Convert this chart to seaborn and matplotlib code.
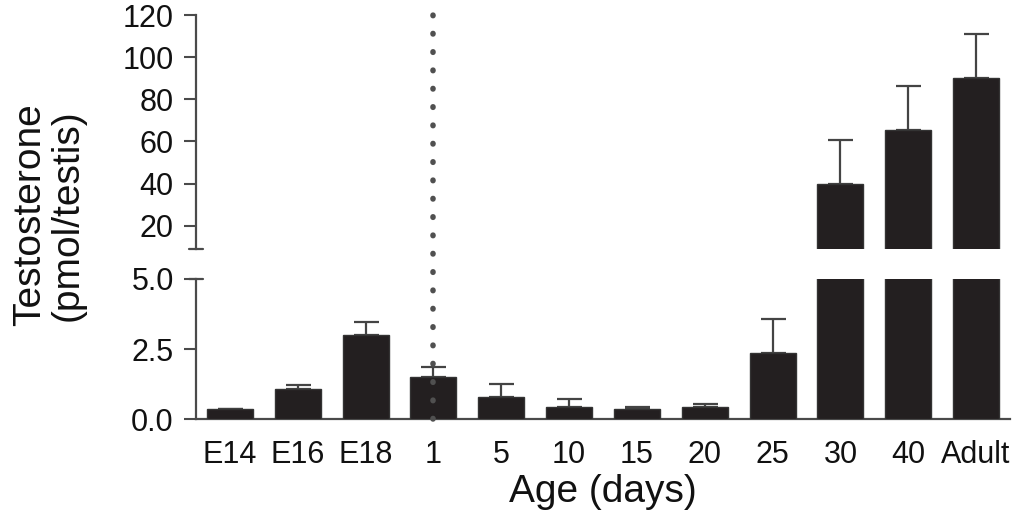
import numpy as np
import pandas as pd
import seaborn as sns
import matplotlib
matplotlib.use("Agg")
import matplotlib.pyplot as plt
from matplotlib.lines import Line2D
from matplotlib.transforms import blended_transform_factory

# ---- data ----
ages = ["E14", "E16", "E18", "1", "5", "10", "15", "20", "25", "30", "40", "Adult"]
testosterone = [0.36, 1.07, 3.01, 1.50, 0.80, 0.44, 0.36, 0.44, 2.36, 40.0, 65.5, 90.3]
upper_err = [0.0, 0.14, 0.44, 0.36, 0.47, 0.27, 0.08, 0.12, 1.21, 20.6, 20.9, 20.8]
top_ticks = [20, 40, 60, 80, 100, 120]
bottom_ticks = [0.0, 2.5, 5.0]
marker_age = "1"

sns.set_style("ticks")
plt.rcParams["font.family"] = ["Liberation Sans", "DejaVu Sans"]

df = pd.DataFrame({"age": ages, "t": testosterone})

fig = plt.figure(figsize=(10.25, 5.28), dpi=100)
L, R = 196 / 1025, 1010 / 1025
ax_top = fig.add_axes([L, 1 - 249 / 528, R - L, (249 - 15) / 528])
ax_bot = fig.add_axes([L, 1 - 419.3 / 528, R - L, (419.3 - 279) / 528])

bar_color = "#231f20"
spine_color = "#4a4a4a"
err_color = "#444444"

for ax in (ax_top, ax_bot):
    sns.barplot(data=df, x="age", y="t", ax=ax, color=bar_color, saturation=1,
                width=0.68, errorbar=None, edgecolor="#333333", linewidth=1)
    for p in ax.patches:
        p.set_zorder(3)
    ax.errorbar(np.arange(len(ages)), testosterone,
                yerr=[np.zeros(len(ages)), upper_err], fmt="none",
                ecolor=err_color, elinewidth=1.6, capsize=9, capthick=1.6, zorder=1)
    ax.set_xlim(-0.5, len(ages) - 0.5)
    for s in ("top", "right"):
        ax.spines[s].set_visible(False)
    ax.spines["left"].set_color(spine_color)
    ax.spines["left"].set_linewidth(1.6)
    ax.tick_params(axis="y", length=9, width=1.5, color=spine_color,
                   labelsize=22, pad=7, labelcolor="#111111")
    ax.set_ylabel("")
    ax.set_xlabel("")

ax_top.set_ylim(9, 120)
ax_top.set_yticks(top_ticks)
ax_top.set_yticklabels([str(t) for t in top_ticks])
ax_top.spines["bottom"].set_visible(False)
ax_top.tick_params(axis="x", bottom=False, labelbottom=False)

ax_bot.set_ylim(0, 5.0)
ax_bot.set_yticks(bottom_ticks)
ax_bot.set_yticklabels([f"{t:.1f}" for t in bottom_ticks])
ax_bot.spines["bottom"].set_color(spine_color)
ax_bot.spines["bottom"].set_linewidth(1.6)
ax_bot.tick_params(axis="x", length=0, labelsize=22, pad=15, labelcolor="#111111")
ax_bot.set_xlabel("Age (days)", fontsize=28, labelpad=3, color="#111111")

# break markers on the y axis
for ax, yv in ((ax_top, 0.0), (ax_bot, 1.0)):
    tr = blended_transform_factory(fig.transFigure, ax.transAxes)
    ax.add_line(Line2D([L - 7 / 1025, L + 7 / 1025], [yv, yv], transform=tr,
                       color=spine_color, lw=1.6, clip_on=False))

# dotted vertical marker at day 1
xi = ages.index(marker_age)
trv = blended_transform_factory(ax_bot.transData, fig.transFigure)
ax_bot.add_line(Line2D([xi, xi], [1 - 419.3 / 528, 1 - 15.0 / 528], transform=trv,
                       color="#505050", lw=4.0, linestyle=(0, (0.1, 3.2)),
                       dash_capstyle="round", clip_on=False, zorder=5))

fig.text(0.048, 1 - 215 / 528, "Testosterone\n(pmol/testis)", rotation=90,
         ha="center", va="center", fontsize=28, linespacing=1.05, color="#111111")

fig.savefig("out.png", dpi=100)
